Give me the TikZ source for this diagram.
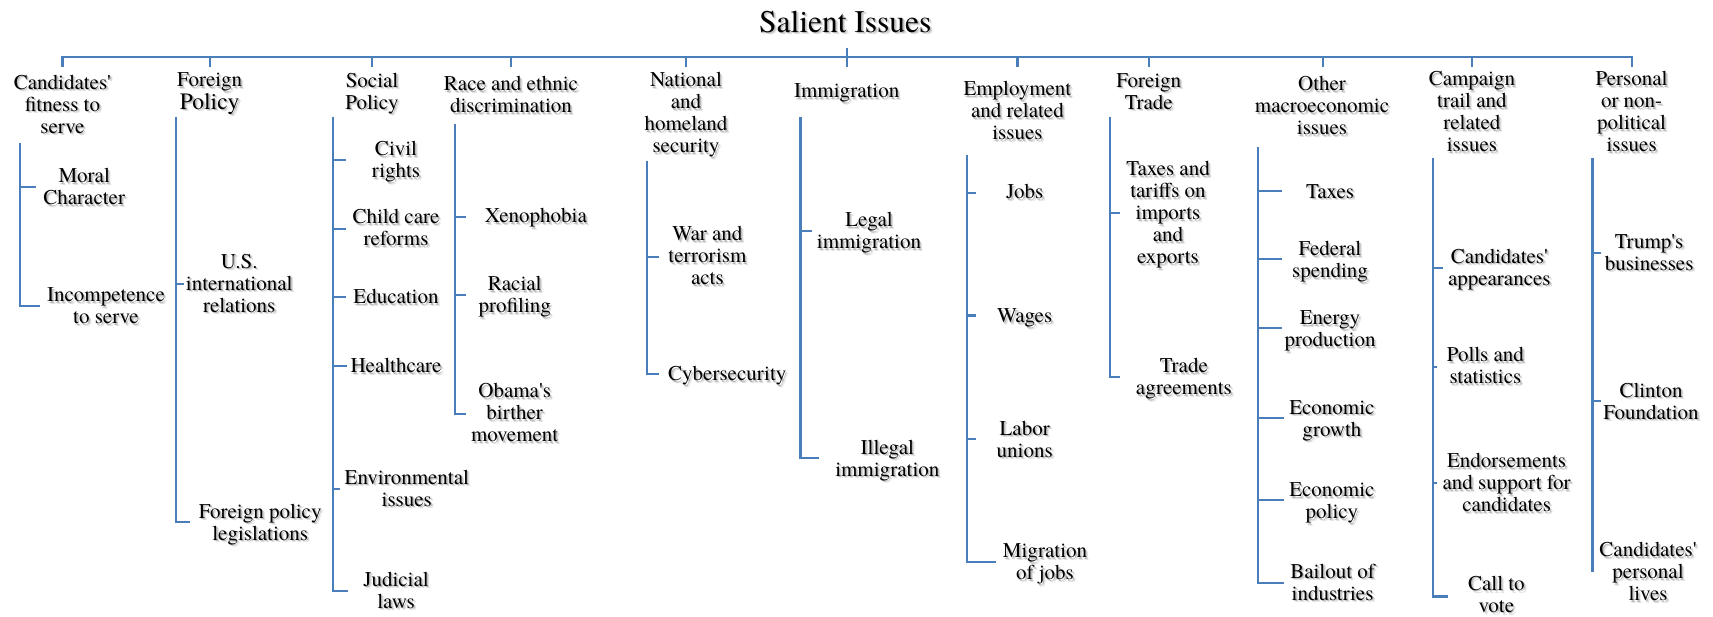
\documentclass[tikz,border=0pt]{standalone}
\usepackage{fontspec}
\setmainfont{texgyretermes}[Extension=.otf,UprightFont=*-regular,BoldFont=*-bold,ItalicFont=*-italic,BoldItalicFont=*-bolditalic]
\definecolor{branch}{RGB}{74,126,187}

% soft drop shadow behind every label
\newsavebox\shadowfar
\newsavebox\shadownear
\newsavebox\shadowtop
\newcommand{\stack}[1]{\begin{tabular}[t]{@{}c@{}}#1\end{tabular}}
\newcommand{\shaded}[1]{%
  \sbox\shadowfar{\color{black!12}\stack{#1}}%
  \sbox\shadownear{\color{black!26}\stack{#1}}%
  \sbox\shadowtop{\stack{#1}}%
  \rlap{\kern2.6pt\raisebox{-2.6pt}{\usebox\shadowfar}}%
  \rlap{\kern1.4pt\raisebox{-1.4pt}{\usebox\shadownear}}%
  \usebox\shadowtop}
\newcommand{\apos}{\textquotesingle}

\tikzset{
  br/.style={draw=branch, line width=2.2pt},
  lbl/.style={anchor=base, inner sep=0pt, font=\fontsize{21}{22}\selectfont},
  ttl/.style={anchor=base, inner sep=0pt, font=\fontsize{31.5}{34}\selectfont},
}

\begin{document}
\begin{tikzpicture}[x=1pt,y=-1pt]
\fill[white] (0,0) rectangle (1713,617);
\useasboundingbox (0,0) rectangle (1713,617);

% ---------- root and top bar ----------
\node[ttl] (root) at (845.2,32.3) {\shaded{Salient Issues}};
\coordinate (rootstem) at (846.7,48.3);
\coordinate (bar) at (0,57.3);
\coordinate (d1) at (62.4,66.7);
\coordinate (d2) at (209.7,66.7);
\coordinate (d3) at (372,66.7);
\coordinate (d4) at (511,66.7);
\coordinate (d5) at (686,66.7);
\coordinate (d6) at (846.7,66.7);
\coordinate (d7) at (1017.4,66.7);
\coordinate (d8) at (1148.7,66.7);
\coordinate (d9) at (1322.7,66.7);
\coordinate (d10) at (1471.9,66.7);
\coordinate (d11) at (1632.3,66.7);
\draw[br] (d1) |- (d11 |- bar) -- (d11);
\foreach \d in {d2,d3,d4,d5,d7,d8,d9,d10}{\draw[br] (\d |- bar) -- (\d);}
\draw[br] (rootstem) -- (d6);

% ---------- category headings ----------
\node[lbl] (h1) at (62.4,89.3) {\shaded{Candidates\apos\\fitness to\\serve}};
\node[lbl] (h2) at (209.7,86.7) {\shaded{Foreign\\{\fontsize{23.5}{22}\selectfont Policy}}};
\node[lbl] (h3) at (372,87.3) {\shaded{Social\\Policy}};
\node[lbl] (h4) at (511,90.7) {\shaded{Race and ethnic\\discrimination}};
\node[lbl] (h5) at (686,86.7) {\shaded{National\\and\\homeland\\security}};
\node[lbl] (h6) at (846.7,97.7) {\shaded{Immigration}};
\node[lbl] (h7) at (1017.4,95.7) {\shaded{Employment\\and related\\issues}};
\node[lbl] (h8) at (1148.7,87.3) {\shaded{Foreign\\Trade}};
\node[lbl] (h9) at (1322,90.7) {\shaded{Other\\macroeconomic\\issues}};
\node[lbl] (h10) at (1471.9,86) {\shaded{Campaign\\trail and\\related\\issues}};
\node[lbl] (h11) at (1631.6,86) {\shaded{Personal\\or non-\\political\\issues}};

% ---------- Candidates' fitness to serve ----------
\node[lbl] (moral) at (84.2,182.7) {\shaded{Moral\\Character}};
\node[lbl] (incomp) at (106,301.7) {\shaded{Incompetence\\to serve}};
\coordinate (s1) at (20.3,143.3);
\coordinate (moral-e) at (36.4,186.7);
\coordinate (incomp-e) at (40,306);
\draw[br] (s1) |- (incomp-e);
\draw[br] (s1 |- moral-e) -- (moral-e);

% ---------- Foreign Policy ----------
\node[lbl] (usir) at (239.2,268.3) {\shaded{U.S.\\international\\relations}};
\node[lbl] (fpl) at (260.2,518.3) {\shaded{Foreign policy\\legislations}};
\coordinate (s2) at (176,116.7);
\coordinate (usir-e) at (183.7,284);
\coordinate (fpl-e) at (190,521.7);
\draw[br] (s2) |- (fpl-e);
\draw[br] (s2 |- usir-e) -- (usir-e);

% ---------- Social Policy ----------
\node[lbl] (civil) at (396,156) {\shaded{Civil\\rights}};
\node[lbl] (child) at (396,224) {\shaded{Child care\\reforms}};
\node[lbl] (edu) at (396,304) {\shaded{Education}};
\node[lbl] (health) at (396,372.7) {\shaded{Healthcare}};
\node[lbl] (env) at (406.8,484.3) {\shaded{Environmental\\issues}};
\node[lbl] (jud) at (396,586) {\shaded{Judicial\\laws}};
\coordinate (s3) at (333,116.7);
\coordinate (civil-e) at (346.3,160);
\coordinate (child-e) at (346.3,229.3);
\coordinate (edu-e) at (346.3,297.3);
\coordinate (health-e) at (347,366);
\coordinate (env-e) at (339.5,489.3);
\coordinate (jud-e) at (348,591);
\draw[br] (s3) |- (jud-e);
\foreach \c in {civil-e,child-e,edu-e,health-e,env-e}{\draw[br] (s3 |- \c) -- (\c);}

% ---------- Race and ethnic discrimination ----------
\node[lbl] (xeno) at (535.8,222.7) {\shaded{Xenophobia}};
\node[lbl] (racial) at (514.7,291) {\shaded{Racial\\profiling}};
\node[lbl] (obama) at (514.7,397.7) {\shaded{Obama\apos s\\birther\\movement}};
\coordinate (s4) at (454.6,124);
\coordinate (xeno-e) at (466,217.3);
\coordinate (racial-e) at (466,295.3);
\coordinate (obama-e) at (466,414);
\draw[br] (s4) |- (obama-e);
\foreach \c in {xeno-e,racial-e}{\draw[br] (s4 |- \c) -- (\c);}

% ---------- National and homeland security ----------
\node[lbl] (war) at (707.4,240.7) {\shaded{War and\\terrorism\\acts}};
\node[lbl] (cyber) at (727.3,381) {\shaded{Cybersecurity}};
\coordinate (s5) at (647,160.7);
\coordinate (war-e) at (659,256.7);
\coordinate (cyber-e) at (658.5,374);
\draw[br] (s5) |- (cyber-e);
\draw[br] (s5 |- war-e) -- (war-e);

% ---------- Immigration ----------
\node[lbl] (legal) at (869,226.7) {\shaded{Legal\\immigration}};
\node[lbl] (illegal) at (887.3,454) {\shaded{Illegal\\immigration}};
\coordinate (s6) at (800.4,116.7);
\coordinate (legal-e) at (811.5,230.7);
\coordinate (illegal-e) at (819.2,458.3);
\draw[br] (s6) |- (illegal-e);
\draw[br] (s6 |- legal-e) -- (legal-e);

% ---------- Employment and related issues ----------
\node[lbl] (jobs) at (1024.7,199) {\shaded{Jobs}};
\node[lbl] (wages) at (1024.7,322.7) {\shaded{Wages}};
\node[lbl] (labor) at (1024.7,435) {\shaded{Labor\\unions}};
\node[lbl] (migr) at (1045,557.7) {\shaded{Migration\\of jobs}};
\coordinate (s7) at (966.9,155);
\coordinate (jobs-e) at (976,192.7);
\coordinate (wages-e) at (976,315.5);
\coordinate (labor-e) at (976,439);
\coordinate (migr-e) at (996.4,562.3);
\draw[br] (s7) |- (migr-e);
\foreach \c in {jobs-e,wages-e,labor-e}{\draw[br] (s7 |- \c) -- (\c);}

% ---------- Foreign Trade ----------
\node[lbl] (tariffs) at (1168,175.7) {\shaded{Taxes and\\tariffs on\\imports\\and\\exports}};
\node[lbl] (tradeag) at (1183.9,372.7) {\shaded{Trade\\agreements}};
\coordinate (s8) at (1109.7,116.7);
\coordinate (tariffs-e) at (1119.6,213.3);
\coordinate (tradeag-e) at (1119.6,377.3);
\draw[br] (s8) |- (tradeag-e);
\draw[br] (s8 |- tariffs-e) -- (tariffs-e);

% ---------- Other macroeconomic issues ----------
\node[lbl] (taxes) at (1330,198.3) {\shaded{Taxes}};
\node[lbl] (fed) at (1330,256) {\shaded{Federal\\spending}};
\node[lbl] (energy) at (1330,325) {\shaded{Energy\\production}};
\node[lbl] (growth) at (1331.9,414.3) {\shaded{Economic\\growth}};
\node[lbl] (epol) at (1331.9,496.7) {\shaded{Economic\\policy}};
\node[lbl] (bail) at (1332.6,578.3) {\shaded{Bailout of\\industries}};
\coordinate (s9) at (1257.7,146.7);
\coordinate (taxes-e) at (1281.8,191);
\coordinate (fed-e) at (1281.8,259.3);
\coordinate (energy-e) at (1281.8,328.3);
\coordinate (growth-e) at (1284.4,418.3);
\coordinate (epol-e) at (1284.4,500.3);
\coordinate (bail-e) at (1284.4,583.3);
\draw[br] (s9) |- (bail-e);
\foreach \c in {taxes-e,fed-e,energy-e,growth-e,epol-e}{\draw[br] (s9 |- \c) -- (\c);}

% ---------- Campaign trail and related issues ----------
\node[lbl] (appear) at (1499.3,263.3) {\shaded{Candidates\apos\\appearances}};
\node[lbl] (polls) at (1485.4,361.7) {\shaded{Polls and\\statistics}};
\node[lbl] (endorse) at (1506.6,467.7) {\shaded{Endorsements\\and support for\\candidates}};
\node[lbl] (vote) at (1496.4,590.5) {\shaded{Call to\\vote}};
\coordinate (s10) at (1433.1,158.3);
\coordinate (appear-e) at (1442.6,267.7);
\coordinate (polls-e) at (1436.8,366.7);
\coordinate (endorse-e) at (1436.8,482.7);
\coordinate (vote-e) at (1447.7,596.5);
\draw[br] (s10) |- (vote-e);
\foreach \c in {appear-e,polls-e,endorse-e}{\draw[br] (s10 |- \c) -- (\c);}

% ---------- Personal or non-political issues ----------
\node[lbl] (trump) at (1649.1,248.3) {\shaded{Trump\apos s\\businesses}};
\node[lbl] (clinton) at (1651,397.3) {\shaded{Clinton\\Foundation}};
\node[lbl] (lives) at (1648,556.7) {\shaded{Candidates\apos\\personal\\lives}};
\coordinate (s11) at (1592.5,158.3);
\coordinate (s11b) at (1592.5,571.7);
\coordinate (trump-e) at (1601.3,252.7);
\coordinate (clinton-e) at (1601.3,401);
\draw[br] (s11) -- (s11b);
\foreach \c in {trump-e,clinton-e}{\draw[br] (s11 |- \c) -- (\c);}
\end{tikzpicture}
\end{document}
